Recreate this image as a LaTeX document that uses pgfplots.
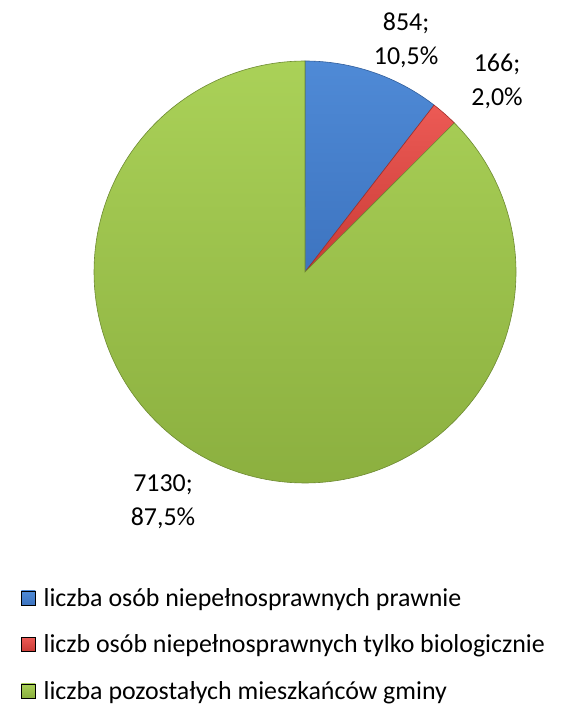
\documentclass[border=0pt]{standalone}
\usepackage{pgfplots}
\usepackage{pgfplotstable}
\pgfplotsset{compat=1.18}
\usepackage{fontspec}
\setmainfont{Carlito}

\definecolor{blueL}{HTML}{4F8AD6}
\definecolor{blueD}{HTML}{3D74C0}
\definecolor{redL}{HTML}{EC5A55}
\definecolor{redD}{HTML}{C93B36}
\definecolor{greenL}{HTML}{AAD158}
\definecolor{greenD}{HTML}{8AAE3E}

\pgfplotstableread{
label value
A 854
B 166
C 7130
}\piedata

\begin{document}
\pgfplotstablegetelem{0}{value}\of\piedata \let\vA\pgfplotsretval
\pgfplotstablegetelem{1}{value}\of\piedata \let\vB\pgfplotsretval
\pgfplotstablegetelem{2}{value}\of\piedata \let\vC\pgfplotsretval
\pgfmathsetmacro\tot{\vA+\vB+\vC}
\pgfmathsetmacro\aA{90-360*(\vA/\tot)}
\pgfmathsetmacro\aB{\aA-360*(\vB/\tot)}
\pgfmathsetmacro\aC{\aB-360*(\vC/\tot)}
\begin{tikzpicture}
\useasboundingbox (0bp,0bp) rectangle (552bp,707bp);
\begin{axis}[
  at={(296bp,435bp)}, anchor=origin,
  hide axis, scale only axis, clip=false,
  width=422bp, height=422bp,
  xmin=-1, xmax=1, ymin=-1, ymax=1,
  legend image code/.code={\path[#1] (0bp,-7bp) rectangle (14bp,7bp);},
  legend cell align=left,
  legend style={draw=none, fill=none, inner sep=0pt,
    font=\fontsize{26}{31}\selectfont,
    row sep=23bp,
    /tikz/every odd column/.append style={column sep=6bp},
    at={(axis description cs:-0.173,-0.244)}, anchor=north west},
]
\shade[top color=blueL, bottom color=blueD, draw=blueD!80!black, line width=0.6bp]
  (axis cs:0,0) -- (axis cs:0,1) arc[start angle=90, end angle=\aA, radius=211bp] -- cycle;
\shade[top color=redL, bottom color=redD, draw=redD!80!black, line width=0.6bp]
  (axis cs:0,0) -- (axis cs:{cos(\aA)},{sin(\aA)}) arc[start angle=\aA, end angle=\aB, radius=211bp] -- cycle;
\shade[top color=greenL, bottom color=greenD, draw=greenD!80!black, line width=0.6bp]
  (axis cs:0,0) -- (axis cs:{cos(\aB)},{sin(\aB)}) arc[start angle=\aB, end angle=\aC, radius=211bp] -- cycle;

\addlegendimage{top color=blueL, bottom color=blueD}
\addlegendentry{liczba osób niepełnosprawnych prawnie}
\addlegendimage{top color=redL, bottom color=redD}
\addlegendentry{liczb osób niepełnosprawnych tylko biologicznie}
\addlegendimage{top color=greenL, bottom color=greenD}
\addlegendentry{liczba pozostałych mieszkańców gminy}

\node[align=center, font=\fontsize{26}{34}\selectfont] at (axis cs:0.479,1.100) {854;\\10,5\%};
\node[align=center, font=\fontsize{26}{34}\selectfont] at (axis cs:0.910,0.905) {166;\\2,0\%};
\node[align=center, font=\fontsize{26}{34}\selectfont] at (axis cs:-0.673,-1.090) {7130;\\87,5\%};
\end{axis}
\end{tikzpicture}
\end{document}
